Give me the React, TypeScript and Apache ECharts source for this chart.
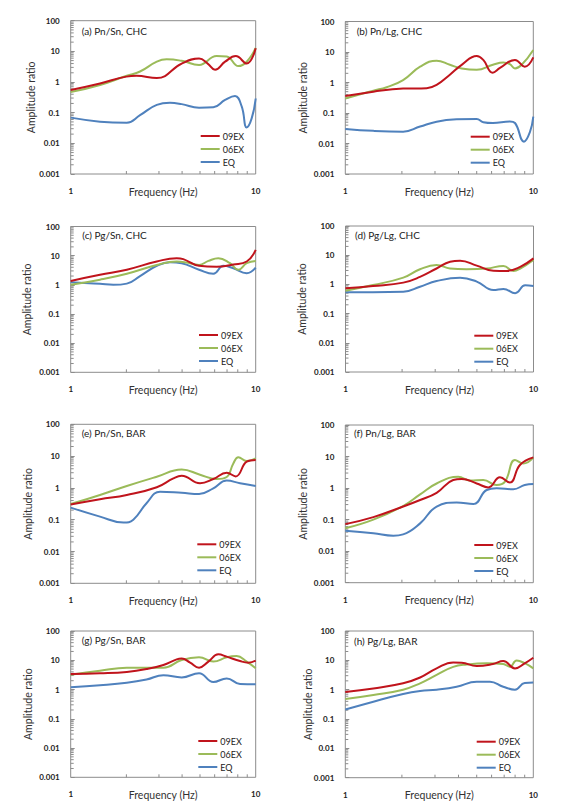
import React, { useEffect, useRef } from "react";
import * as echarts from "echarts";

// ---------- data ----------
const SERIES_NAMES = ["09EX", "06EX", "EQ"];
const PANEL_TITLES = [
  "(a) Pn/Sn, CHC", "(b) Pn/Lg, CHC", "(c) Pg/Sn, CHC", "(d) Pg/Lg, CHC",
  "(e) Pn/Sn, BAR", "(f) Pn/Lg, BAR", "(g) Pg/Sn, BAR", "(h) Pg/Lg, BAR",
];
const Y_TICK_LABELS = ["0.001", "0.01", "0.1", "1", "10", "100"];
const X_TICK_LABELS = ["1", "10"];
const MINOR_MULTIPLIERS = [2, 3, 4, 5, 6, 7, 8, 9];

// (a) Pn/Sn, CHC
const a09 = [[1,0.55],[1.44,0.9],[2.0,1.5],[2.27,1.6],[2.92,1.35],[3.98,4.0],[4.94,5.8],[5.5,4.0],[6.03,2.5],[6.83,4.6],[7.8,7.0],[8.94,4.0],[10,12.6]];
const a06 = [[1,0.47],[1.44,0.8],[2.01,1.6],[2.37,2.2],[2.92,4.6],[3.3,5.5],[3.98,4.9],[4.94,3.6],[6.15,7.0],[6.97,6.8],[8.06,3.3],[8.94,4.6],[10,13]];
const aEQ = [[1,0.069],[1.44,0.051],[2.01,0.047],[2.37,0.083],[2.92,0.18],[3.44,0.21],[3.98,0.19],[4.94,0.145],[5.9,0.15],[6.83,0.26],[7.73,0.35],[8.4,0.16],[8.94,0.033],[9.51,0.065],[10,0.29]];
// (b) Pn/Lg, CHC
const b09 = [[1,0.36],[1.41,0.5],[2.03,0.63],[2.71,0.65],[3.06,0.83],[3.6,1.8],[4.16,3.8],[5.0,7.4],[5.42,5.5],[6.08,2.1],[6.65,3.0],[7.99,5.5],[9.0,3.3],[10,6.7]];
const b06 = [[1,0.3],[1.41,0.54],[1.66,0.7],[2.03,1.2],[2.5,3.3],[3.06,5.2],[3.6,3.8],[4.16,2.9],[5.0,2.6],[6.1,3.8],[6.92,4.5],[7.5,4.0],[7.99,2.9],[8.67,3.8],[10,11.7]];
const bEQ = [[1,0.030],[1.41,0.026],[2.03,0.0245],[2.5,0.036],[3.06,0.052],[3.91,0.062],[5.0,0.064],[5.42,0.05],[6.1,0.047],[7.5,0.053],[7.99,0.047],[8.92,0.0115],[9.6,0.024],[10,0.076]];
// (c) Pg/Sn, CHC
const c09 = [[1,1.36],[1.44,2.2],[2.01,3.3],[2.92,6.3],[3.74,8.2],[4.06,7.6],[4.94,4.5],[6.15,4.2],[7.57,5.0],[8.94,6.3],[10,15.8]];
const c06 = [[1,1.0],[1.44,1.5],[2.01,2.4],[2.92,4.8],[3.74,6.3],[4.24,5.8],[4.94,4.8],[5.55,6.6],[6.28,8.2],[7.26,5.5],[8.06,3.3],[8.94,5.5],[10,6.6]];
const cEQ = [[1,1.23],[1.44,1.08],[1.7,1.0],[2.01,1.1],[2.37,2.0],[2.92,4.5],[3.44,6.0],[3.98,5.5],[4.94,3.3],[5.9,2.4],[6.69,4.5],[7.57,3.7],[8.94,2.5],[10,3.9]];
// (d) Pg/Lg, CHC
const d09 = [[1,0.74],[1.4,0.88],[2.03,1.15],[2.49,1.8],[3.05,3.5],[3.6,6.0],[4.07,6.5],[4.99,4.4],[6.12,2.95],[7.2,2.9],[8.5,4.0],[10,7.8]];
const d06 = [[1,0.61],[1.4,0.95],[2.03,1.7],[2.49,3.3],[3.05,4.6],[3.6,3.5],[4.41,3.3],[5.64,3.5],[6.92,4.3],[7.82,2.9],[8.5,3.5],[10,6.9]];
const dEQ = [[1,0.54],[1.4,0.54],[2.03,0.56],[2.49,0.83],[3.05,1.3],[4.07,1.7],[4.99,1.25],[6.12,0.64],[6.92,0.7],[7.99,0.5],[9.03,0.93],[10,0.88]];
// (e) Pn/Sn, BAR
const e09 = [[1,0.30],[1.44,0.44],[2.01,0.6],[2.92,1.05],[3.59,2.0],[3.98,2.4],[5.0,1.4],[5.9,1.9],[6.97,3.0],[7.8,2.3],[8.94,6.7],[10,7.6]];
const e06 = [[1,0.31],[1.44,0.6],[2.01,1.15],[2.92,2.25],[3.98,3.8],[5.0,2.6],[6.15,1.9],[6.97,2.2],[7.57,5.9],[8.06,9.2],[8.94,7.0],[10,8.5]];
const eEQ = [[1,0.24],[1.44,0.125],[1.93,0.081],[2.18,0.1],[2.57,0.33],[3.04,0.76],[3.98,0.7],[4.94,0.64],[5.9,0.97],[6.97,1.7],[8.23,1.4],[10,1.15]];
// (f) Pn/Lg, BAR
const f09 = [[1,0.072],[1.41,0.12],[2.03,0.26],[2.5,0.42],[3.06,0.71],[3.75,1.8],[4.16,1.95],[5.0,1.4],[5.76,1.05],[6.65,2.2],[7.5,1.5],[8.49,5.4],[10,9.4]];
const f06 = [[1,0.053],[1.41,0.1],[2.03,0.27],[2.5,0.63],[3.06,1.4],[3.99,2.3],[4.6,1.75],[5.42,1.8],[6.38,1.25],[7.07,1.6],[7.99,7.8],[8.85,6.0],[10,9.2]];
const fEQ = [[1,0.044],[1.41,0.037],[1.8,0.031],[2.03,0.034],[2.5,0.076],[3.06,0.26],[3.91,0.35],[4.8,0.31],[5.65,0.87],[6.38,0.98],[7.83,0.92],[9.0,1.25],[10,1.35]];
// (g) Pg/Sn, BAR
const g09 = [[1,3.4],[1.44,3.6],[2.01,4.0],[2.57,5.0],[3.17,6.9],[3.74,10.7],[3.98,11.4],[4.42,8.3],[4.94,5.6],[5.55,9.0],[6.28,15.9],[6.97,13.3],[8.23,9.4],[9.13,8.3],[10,9.7]];
const g06 = [[1,3.2],[1.44,4.4],[2.01,5.6],[2.57,5.6],[3.17,5.6],[3.98,10.2],[4.94,12.6],[5.9,9.0],[6.97,12.6],[7.89,14.0],[8.94,9.0],[10,5.3]];
const gEQ = [[1,1.2],[1.44,1.4],[2.01,1.7],[2.57,2.2],[3.17,3.1],[3.98,2.6],[4.94,3.6],[5.9,1.8],[6.97,2.4],[8.23,1.55],[10,1.5]];
// (h) Pg/Lg, BAR
const h09 = [[1,0.83],[1.41,1.1],[2.03,1.65],[2.5,2.6],[3.06,5.3],[3.75,8.5],[4.16,8.3],[5.0,6.4],[6.1,7.5],[6.92,9.5],[7.99,5.3],[9.0,7.9],[10,12.3]];
const h06 = [[1,0.48],[1.41,0.66],[2.03,1.0],[2.5,1.65],[3.06,3.2],[3.75,6.0],[4.42,7.2],[5.65,7.9],[6.92,7.5],[7.5,6.0],[8.15,9.8],[9.0,8.0],[10,5.3]];
const hEQ = [[1,0.21],[1.41,0.39],[2.03,0.71],[2.5,0.9],[3.06,1.0],[3.91,1.26],[5.0,1.87],[5.88,1.87],[6.92,1.26],[7.99,1.0],[9.0,1.7],[10,1.75]];

const PANEL_DATA = [
  [a09, a06, aEQ], [b09, b06, bEQ], [c09, c06, cEQ], [d09, d06, dEQ],
  [e09, e06, eEQ], [f09, f06, fEQ], [g09, g06, gEQ], [h09, h06, hEQ],
];

// ---------- layout / style ----------
const COLORS = ["#C0141C", "#9BBB59", "#4F81BD"];
const FONT = "Lato, 'Liberation Sans', sans-serif";
// [left, top, width, height]
const RECTS = [
  [70.7, 20.7, 185, 153.3],
  [345.3, 21.5, 188, 152.5],
  [70.7, 226.5, 185, 145.8],
  [345.5, 226, 188, 146],
  [70.7, 424.3, 185, 159],
  [345.3, 425, 188, 157.7],
  [70.7, 631, 185, 146.3],
  [345.3, 631, 188, 146.7],
];
const LEGEND_POS = [[200.7, 136], [470.7, 136.7], [199, 335], [474.3, 335.7], [197.3, 544.3], [474.3, 545], [198.3, 741], [476.7, 741.7]];
const TITLE_POS = [[81.7, 31.7], [356.7, 31.7], [82.3, 236], [355, 235.7], [81.7, 434.3], [354, 434.3], [81.7, 641], [354, 642.3]];
const YNAME_GAP = [34.7, 37.3, 38.7, 37.8, 37.7, 37.3, 37.7, 32.3];

function buildOption() {
  const grid: any[] = [];
  const xAxis: any[] = [];
  const yAxis: any[] = [];
  const series: any[] = [];
  const legend: any[] = [];
  const title: any[] = [];

  const yMinor: number[][] = [];
  for (let e = -3; e < 2; e++) {
    for (const m of MINOR_MULTIPLIERS) yMinor.push([1, m * Math.pow(10, e)]);
  }
  const xMinor = MINOR_MULTIPLIERS.map((m) => [m, 0.001]);

  RECTS.forEach((r, i) => {
    grid.push({
      left: r[0], top: r[1], width: r[2], height: r[3],
      show: true, borderColor: "#8c8c8c", borderWidth: 1, backgroundColor: "transparent",
    });
    xAxis.push({
      type: "log", logBase: 10, min: 1, max: 10, gridIndex: i,
      name: "Frequency (Hz)", nameLocation: "middle", nameGap: 12, nameMoveOverlap: false,
      nameTextStyle: { fontFamily: FONT, fontSize: 10.5, color: "#333" },
      axisLine: { show: false },
      axisTick: { show: false },
      splitLine: { show: false },
      axisLabel: {
        margin: 13, fontFamily: FONT, fontSize: 8, fontWeight: "bold", color: "#222",
        formatter: (v: number) => X_TICK_LABELS[Math.round(Math.log10(v))],
      },
    });
    yAxis.push({
      type: "log", logBase: 10, min: 0.001, max: 100, gridIndex: i,
      name: "Amplitude ratio", nameLocation: "middle", nameGap: YNAME_GAP[i], nameMoveOverlap: false,
      nameTextStyle: { fontFamily: FONT, fontSize: 10.5, color: "#333" },
      axisLine: { show: false },
      axisTick: { show: true, inside: true, length: 4, lineStyle: { color: "#8c8c8c" } },
      splitLine: { show: false },
      axisLabel: {
        margin: 11, fontFamily: FONT, fontSize: 8, fontWeight: "bold", color: "#222",
        formatter: (v: number) => Y_TICK_LABELS[Math.round(Math.log10(v)) + 3],
      },
    });
    // minor ticks
    series.push({
      type: "custom", xAxisIndex: i, yAxisIndex: i, silent: true, clip: false, z: 1,
      data: xMinor,
      renderItem: (_p: any, api: any) => {
        const pt = api.coord([api.value(0), api.value(1)]);
        return { type: "line", shape: { x1: pt[0], y1: pt[1], x2: pt[0], y2: pt[1] - 3 }, style: { stroke: "#8c8c8c", lineWidth: 1 } };
      },
    });
    series.push({
      type: "custom", xAxisIndex: i, yAxisIndex: i, silent: true, clip: false, z: 1,
      data: yMinor,
      renderItem: (_p: any, api: any) => {
        const pt = api.coord([api.value(0), api.value(1)]);
        return { type: "line", shape: { x1: pt[0], y1: pt[1], x2: pt[0] + 3, y2: pt[1] }, style: { stroke: "#8c8c8c", lineWidth: 1 } };
      },
    });
    // data series (drawn EQ first, 09EX on top)
    [2, 1, 0].forEach((k) => {
      series.push({
        type: "line", name: SERIES_NAMES[k], xAxisIndex: i, yAxisIndex: i,
        data: PANEL_DATA[i][k], smooth: 0.45, showSymbol: false, symbol: "none",
        lineStyle: { color: COLORS[k], width: 2 }, itemStyle: { color: COLORS[k] },
        z: 3 + (2 - k),
      });
    });
    legend.push({
      orient: "vertical", left: LEGEND_POS[i][0], top: LEGEND_POS[i][1] - 6.5,
      padding: 0, itemGap: 0, itemWidth: 19, itemHeight: 2, icon: "rect",
      selectedMode: false, data: SERIES_NAMES,
      textStyle: { fontFamily: FONT, fontSize: 9, color: "#222", lineHeight: 13, padding: [0, 0, 0, -2] },
    });
    title.push({
      text: PANEL_TITLES[i], left: TITLE_POS[i][0], top: TITLE_POS[i][1] - 6, padding: 0,
      textStyle: { fontFamily: FONT, fontSize: 10, fontWeight: "normal", color: "#222" },
    });
  });

  return { animation: false, backgroundColor: "#ffffff", grid, xAxis, yAxis, series, legend, title };
}

export default function App() {
  const ref = useRef<HTMLDivElement>(null);
  useEffect(() => {
    if (!ref.current) return;
    const chart = echarts.init(ref.current, undefined, { renderer: "svg" });
    chart.setOption(buildOption());
    return () => chart.dispose();
  }, []);
  return (
    <div
      ref={ref}
      style={{ position: "absolute", left: 0, top: 0, width: 565, height: 812, background: "#fff" }}
    />
  );
}
